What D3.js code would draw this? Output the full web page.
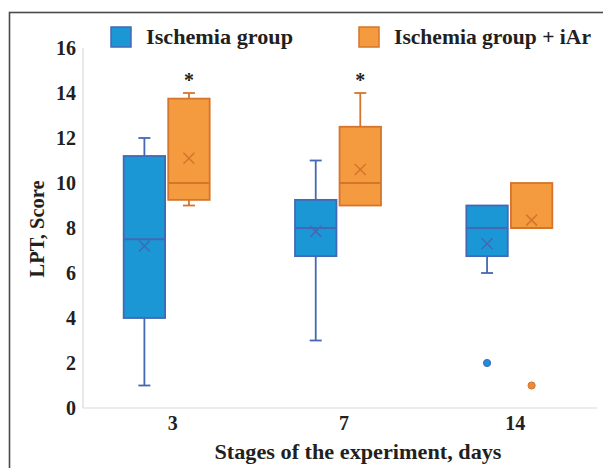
<!DOCTYPE html>
<html>
<head>
<meta charset="utf-8">
<script src="https://cdn.jsdelivr.net/npm/d3@7/dist/d3.min.js"></script>
<style>
  html, body { margin: 0; padding: 0; background: #fff; }
  svg { display: block; }
  text { font-family: "Liberation Serif", "DejaVu Serif", serif; font-weight: bold; fill: #231f20; }
</style>
</head>
<body>
<svg id="chart" width="603" height="468"></svg>
<script>
// ---- data ----
const categories = ["3", "7", "14"];
const seriesNames = ["Ischemia group", "Ischemia group + iAr"];
const yTicks = [0, 2, 4, 6, 8, 10, 12, 14, 16];

const ischMin    = [1, 3, 6];
const ischQ1     = [4, 6.75, 6.75];
const ischMedian = [7.5, 8, 8];
const ischQ3     = [11.2, 9.25, 9];
const ischMax    = [12, 11, 9];
const ischMean   = [7.2, 7.85, 7.3];
const ischOutliers = [[], [], [2]];

const iarMin    = [9, 9, 8];
const iarQ1     = [9.25, 9, 8];
const iarMedian = [10, 10, 8];
const iarQ3     = [13.75, 12.5, 10];
const iarMax    = [14, 14, 10];
const iarMean   = [11.1, 10.6, 8.35];
const iarOutliers = [[], [], [1]];

const significance = ["*", "*", ""];

// ---- styles ----
const fills   = ["#1b97d6", "#f59b3f"];
const strokes = ["#4468b4", "#d5742d"];

const svg = d3.select("#chart");

// frame
svg.append("rect")
  .attr("x", 9.5).attr("y", 12.5)
  .attr("width", 700).attr("height", 700)
  .attr("fill", "none").attr("stroke", "#4a4a4a").attr("stroke-width", 1.6);

const plot = { left: 83, right: 597, top: 48, bottom: 408 };

const y = d3.scaleLinear().domain([0, 16]).range([plot.bottom, plot.top]);
const x0 = d3.scaleBand().domain(categories).range([plot.left, plot.right]);
const bw = x0.bandwidth();
const x1 = d3.scaleBand().domain(seriesNames)
  .range([bw / 2 - 45, bw / 2 + 41]).paddingInner(0.07);

// axis lines
svg.append("line")
  .attr("x1", plot.left).attr("x2", plot.left)
  .attr("y1", plot.top).attr("y2", plot.bottom)
  .attr("stroke", "#d9d9d9").attr("stroke-width", 1.2);
svg.append("line")
  .attr("x1", plot.left).attr("x2", plot.right)
  .attr("y1", plot.bottom).attr("y2", plot.bottom)
  .attr("stroke", "#d9d9d9").attr("stroke-width", 1.2);

// y axis labels
const yAxis = d3.axisLeft(y).tickValues(yTicks).tickSize(0).tickPadding(7).tickFormat(d3.format("d"));
const yg = svg.append("g").attr("transform", `translate(${plot.left},0)`).call(yAxis);
yg.select(".domain").remove();
yg.selectAll("text")
  .style("font-family", '"Liberation Serif", serif')
  .style("font-weight", "bold").style("font-size", "20px").attr("fill", "#231f20");

// x axis labels
const xAxis = d3.axisBottom(x0).tickSize(0).tickPadding(8);
const xg = svg.append("g").attr("transform", `translate(4,${plot.bottom})`).call(xAxis);
xg.select(".domain").remove();
xg.selectAll("text")
  .style("font-family", '"Liberation Serif", serif')
  .style("font-weight", "bold").style("font-size", "20px").attr("fill", "#231f20");

// axis titles
svg.append("text")
  .attr("x", 358).attr("y", 459)
  .attr("text-anchor", "middle")
  .style("font-size", "21px")
  .attr("textLength", 287).attr("lengthAdjust", "spacingAndGlyphs")
  .text("Stages of the experiment, days");

svg.append("text")
  .attr("transform", "translate(44,229) rotate(-90)")
  .attr("text-anchor", "middle")
  .style("font-size", "20px")
  .attr("textLength", 97).attr("lengthAdjust", "spacingAndGlyphs")
  .text("LPT, Score");

// series table
const seriesData = [
  { name: seriesNames[0], min: ischMin, q1: ischQ1, med: ischMedian, q3: ischQ3, max: ischMax, mean: ischMean, out: ischOutliers },
  { name: seriesNames[1], min: iarMin, q1: iarQ1, med: iarMedian, q3: iarQ3, max: iarMax, mean: iarMean, out: iarOutliers }
];

const capW = 12, xSize = 5.5;

seriesData.forEach((s, si) => {
  const g = svg.append("g");
  categories.forEach((c, ci) => {
    const bx = x0(c) + x1(s.name);
    const w = x1.bandwidth();
    const cx = bx + w / 2;
    const col = strokes[si];
    // whiskers
    if (s.max[ci] > s.q3[ci]) {
      g.append("line").attr("x1", cx).attr("x2", cx)
        .attr("y1", y(s.q3[ci])).attr("y2", y(s.max[ci]))
        .attr("stroke", col).attr("stroke-width", 1.8);
      g.append("line").attr("x1", cx - capW / 2).attr("x2", cx + capW / 2)
        .attr("y1", y(s.max[ci])).attr("y2", y(s.max[ci]))
        .attr("stroke", col).attr("stroke-width", 1.8);
    }
    if (s.min[ci] < s.q1[ci]) {
      g.append("line").attr("x1", cx).attr("x2", cx)
        .attr("y1", y(s.q1[ci])).attr("y2", y(s.min[ci]))
        .attr("stroke", col).attr("stroke-width", 1.8);
      g.append("line").attr("x1", cx - capW / 2).attr("x2", cx + capW / 2)
        .attr("y1", y(s.min[ci])).attr("y2", y(s.min[ci]))
        .attr("stroke", col).attr("stroke-width", 1.8);
    }
    // box
    g.append("rect")
      .attr("x", bx).attr("y", y(s.q3[ci]))
      .attr("width", w).attr("height", y(s.q1[ci]) - y(s.q3[ci]))
      .attr("fill", fills[si]).attr("stroke", col).attr("stroke-width", 1.8);
    // median
    g.append("line").attr("x1", bx).attr("x2", bx + w)
      .attr("y1", y(s.med[ci])).attr("y2", y(s.med[ci]))
      .attr("stroke", col).attr("stroke-width", 1.8);
    // mean marker
    const my = y(s.mean[ci]);
    g.append("path")
      .attr("d", `M${cx - xSize},${my - xSize}L${cx + xSize},${my + xSize}M${cx - xSize},${my + xSize}L${cx + xSize},${my - xSize}`)
      .attr("stroke", col).attr("stroke-width", 1.5).attr("fill", "none");
    // outliers
    s.out[ci].forEach(v => {
      g.append("circle").attr("cx", cx).attr("cy", y(v)).attr("r", 3.6)
        .attr("fill", si === 0 ? "#1b8fd8" : "#ef8a33")
        .attr("stroke", col).attr("stroke-width", 1);
    });
    // significance
    if (si === 1 && significance[ci]) {
      g.append("text")
        .attr("x", cx).attr("y", y(s.max[ci]) - 6)
        .attr("text-anchor", "middle")
        .style("font-size", "20px")
        .text(significance[ci]);
    }
  });
});

// legend
const legendPos = [{ x: 111, tx: 146, tl: 147 }, { x: 359, tx: 394, tl: 197 }];
seriesNames.forEach((n, i) => {
  const p = legendPos[i];
  svg.append("rect").attr("x", p.x).attr("y", 27).attr("width", 20).attr("height", 20)
    .attr("fill", fills[i]).attr("stroke", strokes[i]).attr("stroke-width", 1.5);
  svg.append("text").attr("x", p.tx).attr("y", 44)
    .style("font-size", "22px")
    .attr("textLength", p.tl).attr("lengthAdjust", "spacingAndGlyphs")
    .text(n);
});
</script>
</body>
</html>
